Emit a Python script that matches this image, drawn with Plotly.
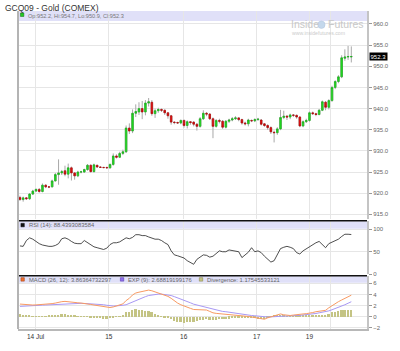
import plotly.graph_objects as go

# ---------------- data ----------------
idx = list(range(104))
opens = [919.0, 918.5, 918.9, 918.7, 919.8, 920.5, 920.9, 920.4, 921.9, 921.5,
         921.5, 922.9, 924.4, 924.8, 925.3, 924.5, 926.0, 924.8, 924.1, 925.0,
         925.0, 925.6, 926.6, 925.1, 926.6, 926.2, 926.1, 926.1, 926.0, 926.8,
         928.8, 928.5, 929.4, 929.8, 935.4, 934.7, 938.9, 939.2, 940.0, 939.2,
         941.3, 941.5, 938.8, 939.5, 939.8, 939.6, 939.0, 938.3, 936.8, 936.7,
         936.6, 937.2, 936.0, 936.9, 936.8, 936.3, 935.8, 937.6, 938.9, 938.7,
         937.6, 935.8, 937.2, 937.0, 935.6, 937.0, 937.3, 937.6, 937.8, 937.4,
         936.6, 936.4, 937.2, 937.1, 937.4, 937.3, 936.4, 936.0, 935.5, 934.4,
         934.3, 935.2, 937.9, 938.2, 938.0, 938.5, 938.4, 938.0, 935.9, 936.9,
         937.2, 939.0, 938.8, 938.6, 939.6, 941.5, 940.3, 941.9, 945.0, 946.4,
         947.5, 951.9, 952.2, 952.2]
highs = [919.4, 919.2, 919.1, 920.0, 920.8, 921.1, 921.2, 922.3, 922.1, 921.7,
         923.2, 924.8, 928.0, 925.5, 926.5, 927.0, 926.3, 925.0, 925.3, 925.3,
         925.8, 926.9, 926.8, 927.0, 926.7, 926.3, 926.2, 926.2, 927.0, 929.4,
         929.2, 929.8, 930.3, 936.0, 936.5, 939.8, 941.0, 941.5, 941.8, 942.0,
         942.5, 942.0, 940.0, 940.2, 940.0, 939.8, 939.2, 938.5, 937.0, 936.9,
         937.4, 937.4, 937.2, 937.0, 937.0, 936.6, 938.0, 939.6, 939.2, 938.9,
         937.9, 937.5, 937.6, 937.3, 937.3, 937.6, 938.0, 938.2, 937.9, 937.6,
         936.9, 937.6, 937.4, 937.7, 937.8, 937.5, 936.6, 936.3, 935.8, 934.8,
         935.6, 939.7, 939.5, 938.5, 938.8, 938.7, 938.6, 938.2, 937.2, 937.6,
         939.3, 939.3, 939.0, 939.9, 941.9, 941.8, 942.2, 945.4, 946.7, 947.9,
         952.6, 954.0, 954.8, 954.7]
lows = [918.2, 918.0, 918.4, 918.4, 919.6, 920.3, 920.1, 920.2, 921.2, 921.2,
        921.4, 922.8, 922.0, 924.3, 924.0, 923.5, 923.0, 923.2, 923.8, 924.7,
        924.8, 925.3, 924.9, 924.9, 926.0, 926.0, 926.0, 925.9, 925.8, 926.5,
        928.2, 928.3, 929.0, 929.5, 934.0, 934.2, 938.0, 938.5, 937.5, 938.4,
        940.5, 938.3, 937.8, 939.0, 939.2, 938.5, 937.6, 936.2, 936.3, 936.4,
        936.3, 935.5, 935.3, 936.2, 935.8, 934.8, 935.5, 937.3, 938.2, 937.3,
        933.0, 935.5, 936.5, 935.2, 935.3, 936.6, 937.0, 937.3, 937.0, 936.2,
        936.0, 935.8, 936.8, 936.8, 937.1, 936.0, 935.7, 935.0, 934.0, 932.0,
        933.8, 934.9, 937.5, 937.3, 937.5, 938.0, 937.6, 935.6, 935.6, 936.6,
        936.9, 938.5, 938.2, 938.4, 939.4, 939.6, 939.8, 941.6, 944.6, 946.0,
        947.2, 951.3, 951.5, 950.9]
closes = [918.5, 918.9, 918.7, 919.8, 920.5, 920.9, 920.4, 921.9, 921.5, 921.45,
          922.9, 924.4, 924.8, 925.1, 924.5, 926.0, 924.8, 924.1, 925.0, 925.05,
          925.6, 926.6, 925.1, 926.7, 926.2, 926.1, 926.05, 926.0, 926.8, 928.8,
          928.5, 929.4, 929.8, 935.4, 934.7, 938.9, 939.3, 940.0, 939.2, 941.3,
          941.6, 938.8, 939.5, 939.8, 939.6, 939.0, 938.3, 936.8, 936.7, 936.6,
          937.2, 936.0, 936.9, 936.7, 936.3, 935.8, 937.6, 938.9, 938.7, 937.6,
          935.8, 937.2, 937.0, 935.6, 937.0, 937.3, 937.6, 937.8, 937.4, 936.6,
          936.4, 937.3, 937.1, 937.4, 937.5, 936.3, 936.0, 935.5, 934.5, 934.3,
          935.2, 937.9, 938.2, 938.0, 938.5, 938.4, 938.0, 935.9, 936.9, 937.2,
          939.0, 938.8, 938.6, 939.6, 941.6, 940.3, 941.9, 945.0, 946.4, 947.5,
          952.0, 952.2, 952.3, 952.3]
rsi = [63, 62, 75, 81, 78, 73, 68, 65, 63, 62,
       62, 64, 68, 79, 81, 78, 73, 69, 68, 68,
       75, 70, 64, 61, 59, 57, 55, 58, 66, 70,
       70, 72, 77, 81, 79, 82, 88, 88, 86, 86,
       83, 80, 78, 78, 75, 70, 66, 52, 43, 41,
       39, 36, 30, 25, 22, 33, 39, 43, 42, 38,
       40, 47, 52, 50, 50, 54, 53, 52, 50, 37,
       43, 49, 59, 50, 52, 48, 40, 33, 27, 30,
       42, 57, 60, 62, 60, 57, 48, 45, 52, 57,
       62, 66, 70, 73, 66, 59, 68, 71, 74, 78,
       84, 89, 89, 88.4]
macd = [2.27, 2.2, 2.15, 2.1, 2.1, 2.12, 2.15, 2.18, 2.2, 2.25,
        2.35, 2.45, 2.6, 2.7, 2.75, 2.72, 2.62, 2.55, 2.5, 2.45,
        2.4, 2.32, 2.2, 2.1, 2.0, 1.9, 1.8, 1.7, 1.65, 1.75,
        1.9, 2.05, 2.3, 2.9, 3.3, 3.9, 4.25, 4.4, 4.5, 4.65,
        4.77, 4.65, 4.45, 4.3, 4.1, 3.9, 3.65, 3.3, 2.85, 2.45,
        2.15, 1.9, 1.7, 1.5, 1.3, 1.25, 1.25, 1.25, 1.2, 0.95,
        0.7, 0.6, 0.55, 0.5, 0.5, 0.45, 0.4, 0.35, 0.33, 0.25,
        0.15, 0.05, -0.05, -0.15, -0.3, -0.45, -0.45, -0.2, 0.0, 0.2,
        0.4, 0.5, 0.35, 0.25, 0.22, 0.3, 0.4, 0.45, 0.5, 0.55,
        0.6, 0.75, 0.9, 1.0, 1.05, 1.15, 1.6, 2.0, 2.35, 2.7,
        3.0, 3.3, 3.6, 3.86]
signal = [1.85, 1.9, 1.93, 1.97, 2.0, 2.03, 2.05, 2.08, 2.1, 2.13,
          2.16, 2.2, 2.27, 2.3, 2.35, 2.38, 2.4, 2.42, 2.4, 2.4,
          2.38, 2.35, 2.32, 2.3, 2.27, 2.22, 2.15, 2.05, 1.95, 1.93,
          1.95, 1.97, 2.05, 2.15, 2.4, 2.7, 2.95, 3.15, 3.4, 3.6,
          3.8, 3.9, 4.02, 4.05, 4.05, 4.0, 3.9, 3.8, 3.6, 3.4,
          3.2, 3.0, 2.75, 2.5, 2.25, 2.1, 1.95, 1.8, 1.65, 1.5,
          1.35, 1.2, 1.05, 0.95, 0.9, 0.8, 0.7, 0.6, 0.52, 0.45,
          0.38, 0.3, 0.22, 0.18, 0.1, 0.02, -0.05, -0.05, -0.02, 0.02,
          0.08, 0.15, 0.18, 0.2, 0.2, 0.2, 0.22, 0.25, 0.3, 0.35,
          0.4, 0.48, 0.58, 0.7, 0.8, 0.9, 1.05, 1.25, 1.45, 1.65,
          1.9, 2.15, 2.42, 2.69]
divergence = [0.42, 0.3, 0.22, 0.13, 0.1, 0.09, 0.1, 0.1, 0.1, 0.12,
              0.19, 0.25, 0.33, 0.4, 0.4, 0.34, 0.22, 0.13, 0.1, 0.05,
              0.02, -0.03, -0.12, -0.2, -0.27, -0.32, -0.35, -0.35, -0.3, -0.18,
              -0.05, 0.08, 0.25, 0.75, 0.9, 1.2, 1.3, 1.25, 1.1, 1.05,
              0.97, 0.75, 0.43, 0.25, 0.05, -0.1, -0.25, -0.5, -0.75, -0.95,
              -1.05, -1.1, -1.05, -1.0, -0.95, -0.85, -0.7, -0.55, -0.45, -0.55,
              -0.65, -0.6, -0.5, -0.45, -0.4, -0.35, -0.3, -0.25, -0.19, -0.2,
              -0.23, -0.25, -0.27, -0.33, -0.4, -0.47, -0.4, -0.15, 0.02, 0.18,
              0.32, 0.35, 0.17, 0.05, 0.02, 0.1, 0.18, 0.2, 0.2, 0.2,
              0.2, 0.27, 0.32, 0.3, 0.25, 0.25, 0.55, 0.75, 0.9, 1.05,
              1.1, 1.15, 1.18, 1.175]
day_ticks = [4.85, 27.6, 50.9, 73.6, 90.0, 96.4]
day_labels = ["14 Jul", "15", "16", "17", "19", ""]
price_ticks = [915, 920, 925, 930, 935, 940, 945, 950, 955, 960]
price_labels = ["915.0", "920.0", "925.0", "930.0", "935.0", "940.0", "945.0", "950.0", "955.0", "960.0"]
rsi_ticks = [0, 50, 100]
macd_ticks = [-2, 0, 2, 4, 6]
last_price = 952.3
title = "GCQ09 - Gold (COMEX)"
ohlc_text = "Op:952.2, Hi:954.7, Lo:950.9, Cl:952.3"
rsi_text = "RSI (14): 88.4393083584"
macd_text = "MACD (26, 12): 3.86364732297"
exp_text = "EXP (9): 2.68819199176"
div_text = "Divergence: 1.17545533121"

# ---------------- geometry helpers (pixels -> paper) ----------------
W, H = 400, 351
ML, MR, MT, MB = 18, 24, 11, 21
PW = W - ML - MR
PH = H - MT - MB


def fx(px):
    return (px - ML) / PW


def fy(py):
    return (H - MB - py) / PH


GREEN = "#22e022"
RED = "#e81010"
BAND = "#e0e0f8"
GRID = "#e6e6e6"
TXT = "#666666"
FONT = "Liberation Sans, Arial, sans-serif"

body_hi = [max(o, c) for o, c in zip(opens, closes)]
body_lo = [min(o, c) for o, c in zip(opens, closes)]

fig = go.Figure()

# wicks
fig.add_trace(go.Candlestick(
    x=idx, open=opens, high=highs, low=lows, close=closes,
    increasing=dict(line=dict(color="#a8a8a8", width=1), fillcolor="rgba(0,0,0,0)"),
    decreasing=dict(line=dict(color="#a8a8a8", width=1), fillcolor="rgba(0,0,0,0)"),
    whiskerwidth=0, showlegend=False, hoverinfo="skip", xaxis="x", yaxis="y"))
# bodies
fig.add_trace(go.Candlestick(
    x=idx, open=opens, high=body_hi, low=body_lo, close=closes,
    increasing=dict(line=dict(color="#18b018", width=0.6), fillcolor=GREEN),
    decreasing=dict(line=dict(color="#b00000", width=0.6), fillcolor=RED),
    whiskerwidth=0, showlegend=False, xaxis="x", yaxis="y"))

fig.add_trace(go.Scatter(x=idx, y=rsi, mode="lines", line=dict(color="#222222", width=0.8),
                         showlegend=False, xaxis="x2", yaxis="y2"))

fig.add_trace(go.Bar(x=idx, y=divergence, marker=dict(color="#c4c484", line=dict(width=0)),
                     width=0.55, showlegend=False, xaxis="x3", yaxis="y3"))
fig.add_trace(go.Scatter(x=idx, y=signal, mode="lines", line=dict(color="#a898f4", width=1),
                         showlegend=False, xaxis="x3", yaxis="y3"))
fig.add_trace(go.Scatter(x=idx, y=macd, mode="lines", line=dict(color="#f89a62", width=1),
                         showlegend=False, xaxis="x3", yaxis="y3"))

xr = [(18 - 20) / 3.3, (376 - 20) / 3.3]

common_x = dict(range=xr, tickvals=day_ticks, ticktext=day_labels, showgrid=True,
                gridcolor=GRID, gridwidth=1, zeroline=False, fixedrange=True)

common_y = dict(side="right", showgrid=True, gridcolor=GRID, zeroline=False,
                ticks="outside", ticklen=3, tickcolor="#999999",
                tickfont=dict(size=6, color=TXT, family=FONT),
                showline=True, linecolor="#c4c4c4", linewidth=2, mirror=False)

fig.update_layout(
    width=W, height=H,
    margin=dict(l=ML, r=MR, t=MT, b=MB),
    paper_bgcolor="white", plot_bgcolor="white",
    bargap=0, barmode="overlay",
    xaxis=dict(domain=[0, 1], anchor="y", showticklabels=False, rangeslider=dict(visible=False), **common_x),
    xaxis2=dict(domain=[0, 1], anchor="y2", showticklabels=False, **common_x),
    xaxis3=dict(domain=[0, 1], anchor="y3", showticklabels=True, ticks="",
                tickfont=dict(size=6.5, color="#333333", family=FONT),
                showline=True, linecolor="#b8b8b8", linewidth=2, **common_x),
    yaxis=dict(domain=[fy(220), 1], range=[915 - 5 / 4.244, 960 + 13 / 4.244],
               tickvals=price_ticks, ticktext=price_labels, **common_y),
    yaxis2=dict(domain=[fy(275), fy(222)], range=[0, 100 + 8 / 0.45],
                tickvals=rsi_ticks, **common_y),
    yaxis3=dict(domain=[0, fy(277)], range=[-(330 - 317.7) / 5.6, (317.7 - 277) / 5.6],
                tickvals=macd_ticks, **common_y),
    showlegend=False,
)

shapes = []
# header bands
for (y0, y1) in [(11, 21), (222, 229.5), (277, 283.5)]:
    shapes.append(dict(type="rect", xref="paper", yref="paper", x0=fx(18), x1=fx(376),
                       y0=fy(y1), y1=fy(y0), fillcolor=BAND, line=dict(width=0), layer="below"))
# separators
for yy in [221.5, 276.5]:
    shapes.append(dict(type="line", xref="paper", yref="paper", x0=fx(18), x1=fx(376),
                       y0=fy(yy), y1=fy(yy), line=dict(color="#111111", width=1.5)))
# left axis line
shapes.append(dict(type="line", xref="paper", yref="paper", x0=fx(18), x1=fx(18),
                   y0=fy(330), y1=fy(11), line=dict(color="#b4b4b4", width=2)))
# legend squares
sq = [(20.5, 13, "#22cc22", "#116611"), (21, 224, "#111111", "#111111"),
      (21, 278.5, "#f07030", "#a04010"), (123, 278.5, "#9070f0", "#5030a0"),
      (204, 278.5, "#c4c484", "#808040")]
for (x0, y0, c, lc) in sq:
    shapes.append(dict(type="rect", xref="paper", yref="paper", x0=fx(x0), x1=fx(x0 + 3.5),
                       y0=fy(y0 + 3.5), y1=fy(y0), fillcolor=c, line=dict(color=lc, width=0.5)))
# watermark globe
shapes.append(dict(type="circle", xref="paper", yref="paper", x0=fx(325.5), x1=fx(333),
                   y0=fy(28.5), y1=fy(21), fillcolor="#c4d8ec", line=dict(color="#b0c4dc", width=0.5)))
fig.update_layout(shapes=shapes)

ann = []


def text(x, y, s, size, color=TXT, anchor="left", bold=False, **kw):
    ann.append(dict(xref="paper", yref="paper", x=fx(x), y=fy(y), text=("<b>%s</b>" % s) if bold else s,
                    showarrow=False, xanchor=anchor, yanchor="middle",
                    font=dict(size=size, color=color, family=FONT), **kw))


text(3, 8, title, 8.5, color="#333333")
text(26, 16, ohlc_text, 5.6, color="#777777")
text(27, 226, rsi_text, 5.8)
text(27.5, 280.5, macd_text, 5.8)
text(129, 280.5, exp_text, 5.8)
text(210, 280.5, div_text, 5.8)
text(296, 24.5, "Inside", 10.5, color="#c8c8c8")
text(334, 24.5, "Futures", 10.5, color="#c8c8c8")
text(297, 33, "www.insidefutures.com", 5.2, color="#cccccc")

ann.append(dict(xref="paper", yref="y", x=fx(378.5), y=last_price, text="952.3", showarrow=False,
                xanchor="left", yanchor="middle", bgcolor="#000000", borderpad=0.5,
                font=dict(size=6, color="white", family=FONT)))
fig.update_layout(annotations=ann)

fig.write_html("out.html")
